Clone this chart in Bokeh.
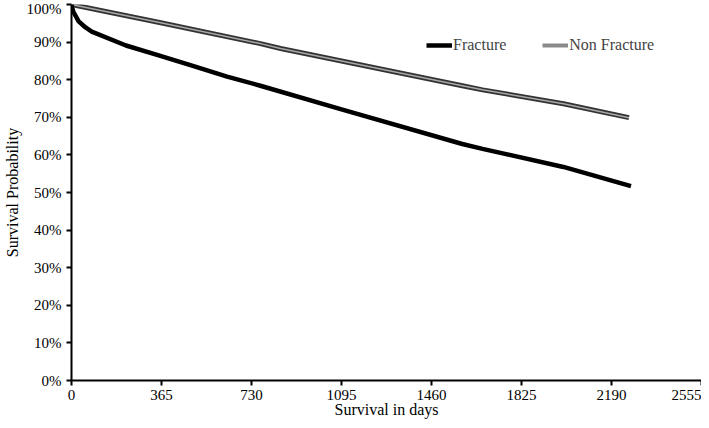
from bokeh.plotting import figure
from bokeh.models import FixedTicker, NumeralTickFormatter, Legend, LegendItem, Range1d
from bokeh.embed import file_html
from bokeh.resources import INLINE

# Data
frac_days = [0, 3, 8, 29, 57, 82, 221, 357, 492, 631, 766, 1095, 1585, 1667, 1995, 2269]
frac_surv = [1.0, 0.99, 0.98, 0.955, 0.939, 0.928, 0.891, 0.864, 0.837, 0.808, 0.784, 0.721, 0.629, 0.616, 0.568, 0.517]

nonfrac_days = [0, 357, 766, 848, 1585, 1667, 1995, 2261]
nonfrac_surv = [1.0, 0.952, 0.896, 0.883, 0.784, 0.773, 0.736, 0.699]

x_ticks = [0, 365, 730, 1095, 1460, 1825, 2190, 2555]
y_ticks = [0.0, 0.1, 0.2, 0.3, 0.4, 0.5, 0.6, 0.7, 0.8, 0.9, 1.0]

FONT = "Liberation Serif"

p = figure(width=701, height=420, output_backend="svg", toolbar_location=None,
           x_range=Range1d(0, 2555), y_range=Range1d(0, 1.0),
           min_border_left=68, min_border_right=0, min_border_top=4, min_border_bottom=0)
p.outline_line_color = None
p.xgrid.grid_line_color = None
p.ygrid.grid_line_color = None
p.background_fill_color = "white"

for ax in (p.xaxis[0], p.yaxis[0]):
    ax.axis_line_width = 2
    ax.axis_line_color = "black"
    ax.major_tick_line_width = 2
    ax.major_tick_line_color = "black"
    ax.major_tick_out = 5
    ax.major_tick_in = 0
    ax.minor_tick_line_color = None
    ax.major_label_text_font = FONT
    ax.major_label_text_font_size = "15px"
    ax.major_label_text_color = "black"
    ax.axis_label_text_font = FONT
    ax.axis_label_text_font_size = "16px"
    ax.axis_label_text_font_style = "normal"
    ax.axis_label_text_color = "black"

p.xaxis.ticker = FixedTicker(ticks=x_ticks)
p.yaxis.ticker = FixedTicker(ticks=y_ticks)
p.yaxis.formatter = NumeralTickFormatter(format="0%")
p.xaxis.axis_label = "Survival in days"
p.yaxis.axis_label = "Survival Probability"
p.xaxis.major_label_standoff = 4
p.xaxis.axis_label_standoff = -2
p.yaxis.major_label_standoff = 5
p.yaxis.axis_label_standoff = 3

nf_outline = p.line(nonfrac_days, nonfrac_surv, line_color="#333333", line_width=5)
nf_inner = p.line(nonfrac_days, nonfrac_surv, line_color="#a8a8a8", line_width=1.5)
fr = p.line(frac_days, frac_surv, line_color="black", line_width=4.5)

# off-screen renderer used only for the legend swatch of the grey series
legend_nf = p.line([-200, -100], [-1, -1], line_color="#8a8a8a", line_width=4)

legend = Legend(items=[LegendItem(label="Fracture", renderers=[fr]),
                       LegendItem(label="Non Fracture", renderers=[legend_nf])],
                orientation="horizontal", location=(355, 325),
                border_line_color=None, background_fill_alpha=0,
                label_text_font=FONT, label_text_font_size="16px",
                glyph_width=26, glyph_height=20, label_standoff=1,
                spacing=36, padding=0, margin=0)
p.add_layout(legend)

open("out.html", "w").write(file_html(p, INLINE))
